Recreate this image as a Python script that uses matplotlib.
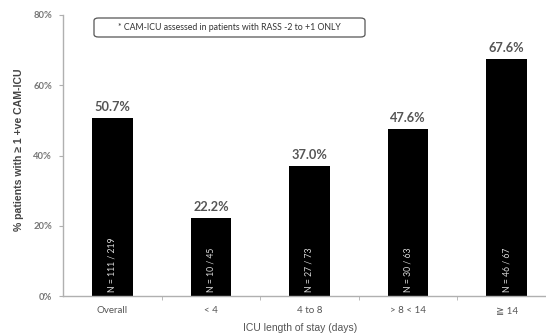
import matplotlib
matplotlib.use("Agg")
import matplotlib.pyplot as plt
from matplotlib.patches import FancyBboxPatch
import numpy as np

categories = ["Overall", "< 4", "4 to 8", "> 8 < 14", "\u2267 14"]
percent = [50.7, 22.2, 37.0, 47.6, 67.6]
counts = ["N = 111 / 219", "N = 10 / 45", "N = 27 / 73", "N = 30 / 63", "N = 46 / 67"]
yticks = [0, 20, 40, 60, 80]

W, H = 546, 336
fig = plt.figure(figsize=(W / 100, H / 100), dpi=100)
x0, x1 = 63, 556
y0, y1 = 296, 15
ax = fig.add_axes([x0 / W, (H - y0) / H, (x1 - x0) / W, (y0 - y1) / H])

x = np.arange(len(categories))
bars = ax.bar(x, percent, width=0.41, color="black", zorder=2)

ax.set_xlim(-0.5, len(categories) - 0.5)
ax.set_ylim(0, 80)

for s in ["top", "right"]:
    ax.spines[s].set_visible(False)
for s in ["left", "bottom"]:
    ax.spines[s].set_color("#b0b0b0")
    ax.spines[s].set_linewidth(1.0)

fam = ["Lato", "DejaVu Sans"]
arial = ["Liberation Sans", "DejaVu Sans"]
ax.set_yticks(yticks)
ax.set_yticklabels([f"{v}%" for v in yticks], fontsize=6.8, color="#777777",
                   family=fam, fontweight="bold")
ax.tick_params(axis="y", length=3, color="#b0b0b0", pad=5)

ax.set_xticks(x)
ax.set_xticklabels(categories, fontsize=7, color="#555555", family=fam)
ax.tick_params(axis="x", length=0, pad=7)
ax.set_xticks(np.arange(0.5, len(categories) - 0.5, 1.0), minor=True)
ax.tick_params(axis="x", which="minor", length=3, color="#b0b0b0")

for xi, v, n in zip(x, percent, counts):
    ax.text(xi, v + 1.4, f"{v:.1f}%", ha="center", va="bottom", fontsize=9.2,
            fontweight="bold", color="#555555", family=fam)
    ax.text(xi, 1.2, n, rotation=90, ha="center", va="bottom", fontsize=6.2,
            color="#dddddd", family=fam)

fig.text(19 / W, 1 - 150 / H, "% patients with \u2265 1 +ve CAM-ICU", rotation=90,
         ha="center", va="center", fontsize=7.6, fontweight="bold",
         color="#444444", family=arial)
fig.text(300 / W, 1 - 328 / H, "ICU length of stay (days)", ha="center", va="center",
         fontsize=7.5, color="#555555", family=arial)

# note box above the bars
bx0, bx1, by0, by1 = 94, 365, 18, 37
box = FancyBboxPatch((bx0 / W, 1 - by1 / H), (bx1 - bx0) / W, (by1 - by0) / H,
                     boxstyle="round,pad=0,rounding_size=0.008",
                     transform=fig.transFigure, facecolor="white",
                     edgecolor="#555555", linewidth=0.9)
fig.patches.append(box)
fig.text((bx0 + bx1) / 2 / W, 1 - (by0 + by1) / 2 / H,
         "* CAM-ICU assessed in patients with RASS -2 to +1 ONLY",
         ha="center", va="center", fontsize=6.3, color="#333333", family=fam)

fig.savefig("out.png", dpi=100)
